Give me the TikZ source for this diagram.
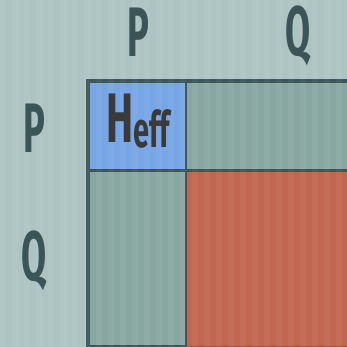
\documentclass[tikz,border=0pt]{standalone}
\usepackage{fontspec}
\newfontfamily\condfont[FakeStretch=0.58]{Fira Sans}
\newfontfamily\narrowfont[FakeStretch=0.52]{Fira Sans}
\definecolor{bgc}{HTML}{ADC4C2}
\definecolor{bordc}{HTML}{3C5558}
\definecolor{bluec}{HTML}{77A6E6}
\definecolor{grayc}{HTML}{89A7A1}
\definecolor{redc}{HTML}{C1674F}
\definecolor{darkred}{HTML}{A04E3A}
\definecolor{labc}{HTML}{3B5457}
\definecolor{heffc}{HTML}{3A3A3A}
\tikzset{
  lab/.style={text=labc, font=\narrowfont\bfseries\fontsize{70}{70}\selectfont, anchor=base, inner sep=0pt},
  stripe/.style={fill=white, fill opacity=0.05, draw=none}
}
\begin{document}
\begin{tikzpicture}[x=1pt,y=-1pt]
\useasboundingbox (0,0) rectangle (347,347);
\fill[bgc] (0,0) rectangle (347,347);
% blocks
\fill[bluec] (88,82) rectangle (186,170.5);
\fill[grayc] (186,82) rectangle (347,170.5);
\fill[grayc] (88,170.5) rectangle (186,346);
\fill[redc] (186,170.5) rectangle (347,346);
% borders
\draw[bordc, line width=4pt] (88,347) -- (88,81.5) -- (347,81.5);
\draw[bordc, line width=2.6pt] (186,83) -- (186,347);
\draw[bordc, line width=2.6pt] (90,170.5) -- (347,170.5);
\draw[bordc, line width=2pt] (86,346) -- (186,346);
\draw[darkred, line width=2pt] (187.3,346.5) -- (347,346.5);
% stripes
\foreach \i in {0,2,...,58} {
  \path[stripe] (\i*6,0) rectangle (\i*6+6,347);
}
% labels
\node[lab] (tp) at (138,57) {P};
\node[lab] (tq) at (298,56) {Q};
\node[lab] (lp) at (34,153) {P};
\node[lab] (lq) at (34,280) {Q};
\node[text=heffc, anchor=base west, inner sep=0pt, font=\condfont\bfseries\fontsize{70}{70}\selectfont] (heff) at (106,143)
  {H\raisebox{-5pt}{\fontsize{50}{50}\selectfont eff}};
\end{tikzpicture}
\end{document}
